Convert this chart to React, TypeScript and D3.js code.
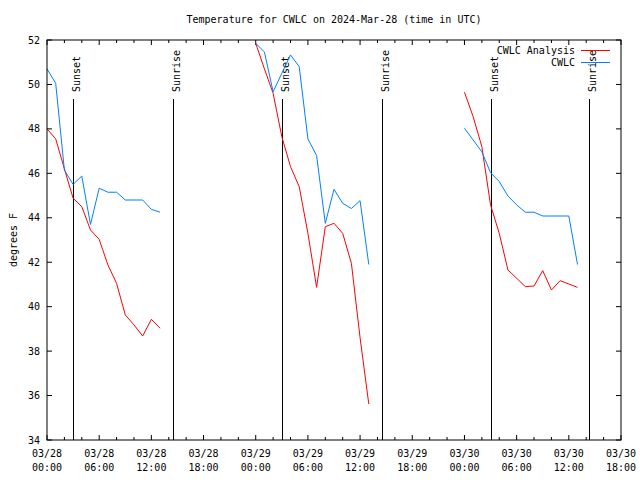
import React from "react";
import * as d3 from "d3";

const yTicks = [34, 36, 38, 40, 42, 44, 46, 48, 50, 52];
const segmentStarts = ["2024-03-28T00:00:00Z", "2024-03-29T00:00:00Z", "2024-03-30T00:00:00Z"];

const cwlc1 = [50.7, 50.05, 46.15, 45.5, 45.88, 43.7, 45.33, 45.15, 45.15, 44.8, 44.8, 44.8, 44.38, 44.25];
const cwlc2 = [51.85, 51.46, 49.67, 50.5, 51.33, 50.8, 47.55, 46.8, 43.75, 45.28, 44.65, 44.42, 44.77, 41.9];
const cwlc3 = [48.03, 47.5, 46.97, 46.03, 45.63, 44.98, 44.58, 44.25, 44.25, 44.08, 44.08, 44.08, 44.08, 41.9];

const analysis1 = [48.0, 47.55, 46.2, 44.88, 44.5, 43.45, 43.03, 41.88, 41.05, 39.63, 39.18, 38.68, 39.43, 39.03];
const analysis2 = [51.85, 50.7, 49.6, 47.65, 46.3, 45.4, 43.3, 40.87, 43.6, 43.75, 43.3, 41.95, 38.6, 35.62];
const analysis3 = [49.65, 48.55, 47.2, 44.58, 43.3, 41.65, 41.28, 40.9, 40.93, 41.62, 40.75, 41.17, 41.02, 40.87];

const sunsets = ["2024-03-28T03:02:00Z", "2024-03-29T03:04:00Z", "2024-03-30T03:05:00Z"];
const sunrises = ["2024-03-28T14:26:00Z", "2024-03-29T14:29:00Z", "2024-03-30T14:21:00Z"];

const FONT = "DejaVu Sans Mono";
const RED = "#ff0000";
const BLUE = "#0080ff";

export default function App() {
  const W = 640, H = 480;
  const L = 47, R = 621, T = 40, B = 440;
  const x = d3.scaleUtc()
    .domain([new Date("2024-03-28T00:00:00Z"), new Date("2024-03-30T18:00:00Z")])
    .range([L, R]);
  const y = d3.scaleLinear().domain([34, 52]).range([B, T]);

  const toPts = (start: string, vals: number[]) =>
    vals.map((v, i) => ({ t: d3.utcHour.offset(new Date(start), i), v }));
  const line = d3.line<{ t: Date; v: number }>().x(d => x(d.t)).y(d => y(d.v));

  const cwlc = [cwlc1, cwlc2, cwlc3].map((s, i) => toPts(segmentStarts[i], s));
  const analysis = [analysis1, analysis2, analysis3].map((s, i) => toPts(segmentStarts[i], s));

  const majors = x.ticks(d3.utcHour.every(6)!);
  const minors = x.ticks(d3.utcHour.every(2)!).filter(d => d.getUTCHours() % 6 !== 0);
  const fmtDate = d3.utcFormat("%m/%d");
  const fmtTime = d3.utcFormat("%H:%M");

  const events = [
    ...sunsets.map(s => ({ t: new Date(s), label: "Sunset" })),
    ...sunrises.map(s => ({ t: new Date(s), label: "Sunrise" })),
  ];

  return (
    <svg width={W} height={H} style={{ position: "absolute", left: 0, top: 0, background: "#fff" }}
      fontFamily={FONT} fontSize={10}>
      <rect x={0} y={0} width={W} height={H} fill="#fff" />
      <text x={334} y={23} textAnchor="middle">Temperature for CWLC on 2024-Mar-28 (time in UTC)</text>
      <text transform={`translate(13,240) rotate(-90)`} textAnchor="middle" dy="0.35em">degrees F</text>

      {yTicks.map(v => (
        <g key={v}>
          <line x1={L} x2={L + 5} y1={y(v)} y2={y(v)} stroke="#000" />
          <line x1={R - 5} x2={R} y1={y(v)} y2={y(v)} stroke="#000" />
          <text x={40} y={y(v)} dy="0.35em" textAnchor="end">{v}</text>
        </g>
      ))}
      {majors.map((d, i) => (
        <g key={"M" + i}>
          <line x1={x(d)} x2={x(d)} y1={B} y2={B - 5} stroke="#000" />
          <line x1={x(d)} x2={x(d)} y1={T} y2={T + 5} stroke="#000" />
          <text x={x(d)} y={457} textAnchor="middle">{fmtDate(d)}</text>
          <text x={x(d)} y={471} textAnchor="middle">{fmtTime(d)}</text>
        </g>
      ))}
      {minors.map((d, i) => (
        <g key={"m" + i}>
          <line x1={x(d)} x2={x(d)} y1={B} y2={B - 3} stroke="#000" />
          <line x1={x(d)} x2={x(d)} y1={T} y2={T + 3} stroke="#000" />
        </g>
      ))}

      {events.map((e, i) => (
        <g key={"e" + i}>
          <line x1={Math.round(x(e.t)) + 0.5} x2={Math.round(x(e.t)) + 0.5} y1={99} y2={B} stroke="#000" />
          <text transform={`translate(${Math.round(x(e.t)) + 7},92) rotate(-90)`} textAnchor="start">{e.label}</text>
        </g>
      ))}

      {analysis.map((s, i) => (
        <path key={"a" + i} d={line(s)!} fill="none" stroke={RED} strokeWidth={1} />
      ))}
      {cwlc.map((s, i) => (
        <path key={"c" + i} d={line(s)!} fill="none" stroke={BLUE} strokeWidth={1} />
      ))}

      <text x={575} y={54} textAnchor="end">CWLC Analysis</text>
      <line x1={581} x2={610} y1={50.5} y2={50.5} stroke={RED} />
      <text x={575} y={66} textAnchor="end">CWLC</text>
      <line x1={581} x2={610} y1={62.5} y2={62.5} stroke={BLUE} />

      <rect x={L} y={T} width={R - L} height={B - T} fill="none" stroke="#000" />
    </svg>
  );
}
